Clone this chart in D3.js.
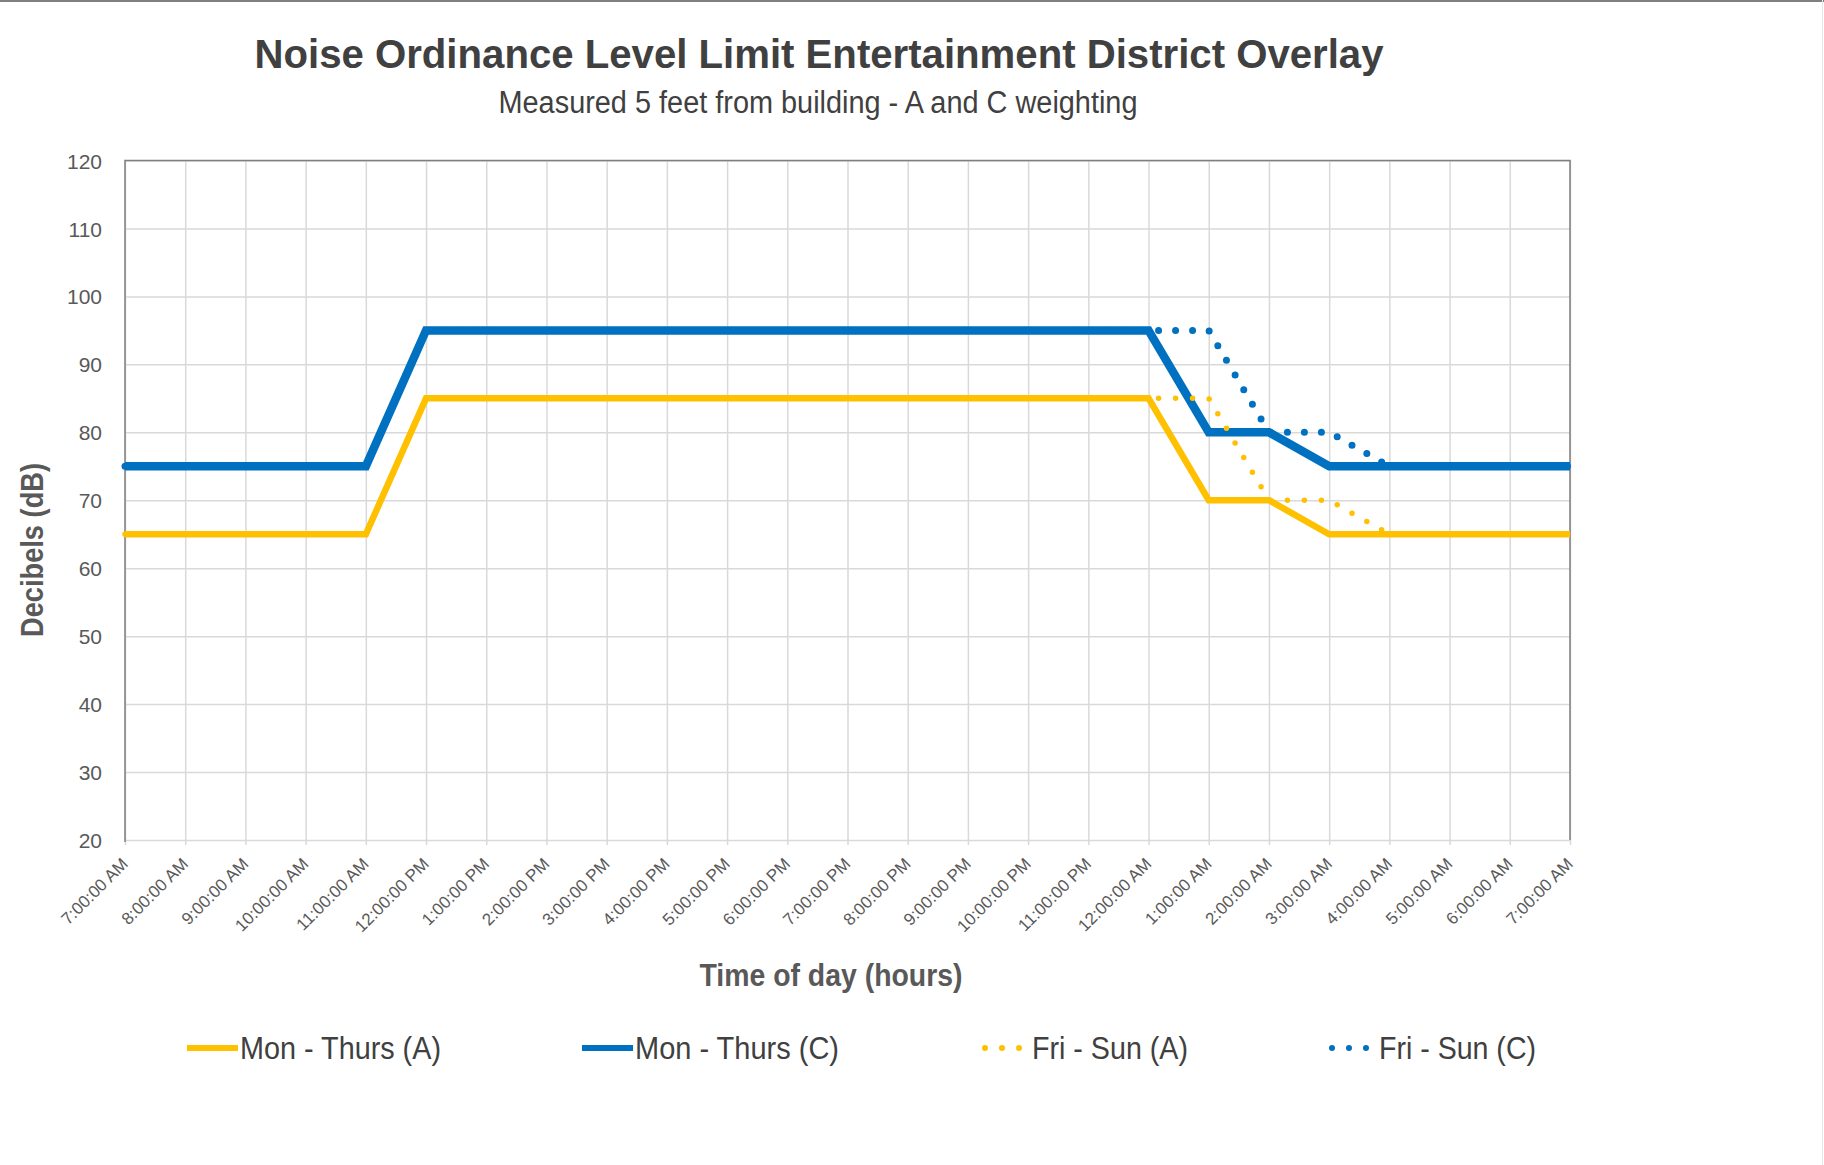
<!DOCTYPE html>
<html>
<head>
<meta charset="utf-8">
<script src="https://cdn.jsdelivr.net/npm/d3@7"></script>
<style>
  body { margin: 0; background: #fff; }
  svg { display: block; font-family: "Liberation Sans", Arial, sans-serif; }
</style>
</head>
<body>
<svg width="1824" height="1165"></svg>
<script>
// hour labels, 7 AM to 7 AM next day
var hours = ["7:00:00 AM", "8:00:00 AM", "9:00:00 AM", "10:00:00 AM", "11:00:00 AM",
    "12:00:00 PM", "1:00:00 PM", "2:00:00 PM", "3:00:00 PM", "4:00:00 PM", "5:00:00 PM",
    "6:00:00 PM", "7:00:00 PM", "8:00:00 PM", "9:00:00 PM", "10:00:00 PM", "11:00:00 PM",
    "12:00:00 AM", "1:00:00 AM", "2:00:00 AM", "3:00:00 AM", "4:00:00 AM", "5:00:00 AM",
    "6:00:00 AM", "7:00:00 AM"];

var monThursA = [65, 65, 65, 65, 65, 85, 85, 85, 85, 85, 85, 85, 85, 85, 85, 85, 85, 85, 70, 70, 65, 65, 65, 65, 65];
var monThursC = [75, 75, 75, 75, 75, 95, 95, 95, 95, 95, 95, 95, 95, 95, 95, 95, 95, 95, 80, 80, 75, 75, 75, 75, 75];
var friSunA   = [65, 65, 65, 65, 65, 85, 85, 85, 85, 85, 85, 85, 85, 85, 85, 85, 85, 85, 85, 70, 70, 65, 65, 65, 65];
var friSunC   = [75, 75, 75, 75, 75, 95, 95, 95, 95, 95, 95, 95, 95, 95, 95, 95, 95, 95, 95, 80, 80, 75, 75, 75, 75];

var yTicks = [20, 30, 40, 50, 60, 70, 80, 90, 100, 110, 120];

var series = [
    {name: "Mon - Thurs (A)", values: monThursA, color: "#FFC000", width: 6.5, dotted: false},
    {name: "Mon - Thurs (C)", values: monThursC, color: "#0070C0", width: 8.5, dotted: false},
    {name: "Fri - Sun (A)",   values: friSunA,   color: "#FFC000", width: 5.5, dotted: true},
    {name: "Fri - Sun (C)",   values: friSunC,   color: "#0070C0", width: 7, dotted: true}
];

var plotLeft = 125, plotRight = 1570, plotTop = 160.5, plotBottom = 840;

var svg = d3.select("svg");

var xscale = d3.scaleLinear().domain([0, hours.length - 1]).range([plotLeft, plotRight]);
var yscale = d3.scaleLinear().domain([20, 120]).range([plotBottom, plotTop]);

// frame of the picture
svg.append("line").attr("x1", 0).attr("x2", 1824).attr("y1", 1).attr("y2", 1)
    .attr("stroke", "#7f7f7f").attr("stroke-width", 2);
svg.append("line").attr("x1", 1822.5).attr("x2", 1822.5).attr("y1", 0).attr("y2", 1165)
    .attr("stroke", "#e6e6e6").attr("stroke-width", 1);

// Titles
svg.append("text")
    .attr("x", 819).attr("y", 68)
    .attr("text-anchor", "middle")
    .attr("font-size", 40).attr("font-weight", "bold").attr("fill", "#404040")
    .attr("textLength", 1129).attr("lengthAdjust", "spacingAndGlyphs")
    .text("Noise Ordinance Level Limit Entertainment District Overlay");

svg.append("text")
    .attr("x", 818).attr("y", 113)
    .attr("text-anchor", "middle")
    .attr("font-size", 31).attr("fill", "#404040")
    .attr("textLength", 639).attr("lengthAdjust", "spacingAndGlyphs")
    .text("Measured 5 feet from building - A and C weighting");

// grid
svg.append("g")
    .attr("transform", "translate(0," + plotBottom + ")")
    .call(d3.axisBottom(xscale).tickValues(d3.range(hours.length)).tickSize(-(plotBottom - plotTop) - 5).tickFormat(""))
    .call(function(g) { g.select(".domain").remove(); })
    .call(function(g) { g.selectAll(".tick line").attr("stroke", "#d9d9d9").attr("stroke-width", 1.5).attr("transform", "translate(0,5)"); });

svg.append("g")
    .attr("transform", "translate(" + plotLeft + ",0)")
    .call(d3.axisLeft(yscale).tickValues(yTicks).tickSize(-(plotRight - plotLeft)).tickFormat(""))
    .call(function(g) { g.select(".domain").remove(); })
    .call(function(g) { g.selectAll(".tick line").attr("stroke", "#d9d9d9").attr("stroke-width", 1.5); });

// plot border
svg.append("path")
    .attr("d", "M" + plotLeft + "," + (plotBottom + 2) + "V" + plotTop + "H" + plotRight + "V" + plotBottom)
    .attr("fill", "none").attr("stroke", "#7f7f7f").attr("stroke-width", 1.5);

// y labels
svg.append("g")
    .attr("transform", "translate(" + (plotLeft - 23) + ",0)")
    .call(d3.axisLeft(yscale).tickValues(yTicks).tickSize(0))
    .call(function(g) { g.select(".domain").remove(); })
    .call(function(g) {
        g.selectAll("text")
            .attr("font-family", "'Liberation Sans', Arial, sans-serif")
            .attr("font-size", 21).attr("fill", "#595959")
            .attr("x", 0).attr("dy", "0.36em");
    });

// x labels
svg.append("g")
    .selectAll("text")
    .data(hours)
    .enter().append("text")
    .attr("transform", function(d, i) { return "translate(" + (xscale(i) + 4) + "," + (plotBottom + 25) + ") rotate(-45)"; })
    .attr("text-anchor", "end")
    .attr("font-size", 17).attr("fill", "#595959")
    .text(function(d) { return d; });

// axis titles
svg.append("text")
    .attr("x", 831).attr("y", 986)
    .attr("text-anchor", "middle")
    .attr("font-size", 32).attr("font-weight", "bold").attr("fill", "#595959")
    .attr("textLength", 263).attr("lengthAdjust", "spacingAndGlyphs")
    .text("Time of day (hours)");

svg.append("text")
    .attr("transform", "translate(43,550) rotate(-90)")
    .attr("text-anchor", "middle")
    .attr("font-size", 31).attr("font-weight", "bold").attr("fill", "#595959")
    .attr("textLength", 174).attr("lengthAdjust", "spacingAndGlyphs")
    .text("Decibels (dB)");

// lines
var line = d3.line()
    .x(function(d, i) { return xscale(i); })
    .y(function(d) { return yscale(d); });

svg.append("g")
    .selectAll("path")
    .data(series)
    .enter().append("path")
    .attr("d", function(d) { return line(d.values); })
    .attr("fill", "none")
    .attr("stroke", function(d) { return d.color; })
    .attr("stroke-width", function(d) { return d.width; })
    .attr("stroke-linecap", function(d) { return d.dotted ? "round" : "butt"; })
    .attr("stroke-linejoin", "miter")
    .attr("stroke-dasharray", function(d) { return d.dotted ? "0,17" : null; });

// Legend
var legendX = [187, 582, 981, 1328];
var legendW = [201, 204, 156, 157];
var legendY = 1048;

var legend = svg.append("g")
    .selectAll("g")
    .data(series)
    .enter().append("g")
    .attr("transform", function(d, i) { return "translate(" + legendX[i] + "," + legendY + ")"; });

legend.append("line")
    .attr("x1", function(d) { return d.dotted ? 4 : 0; })
    .attr("x2", function(d) { return d.dotted ? 40 : 51; })
    .attr("stroke", function(d) { return d.color; })
    .attr("stroke-width", 6)
    .attr("stroke-linecap", function(d) { return d.dotted ? "round" : "butt"; })
    .attr("stroke-dasharray", function(d) { return d.dotted ? "0,17" : null; });

legend.append("text")
    .attr("x", function(d) { return d.dotted ? 51 : 53; })
    .attr("y", 11)
    .attr("font-size", 31).attr("fill", "#404040")
    .attr("textLength", function(d, i) { return legendW[i]; })
    .attr("lengthAdjust", "spacingAndGlyphs")
    .text(function(d) { return d.name; });
</script>
</body>
</html>
